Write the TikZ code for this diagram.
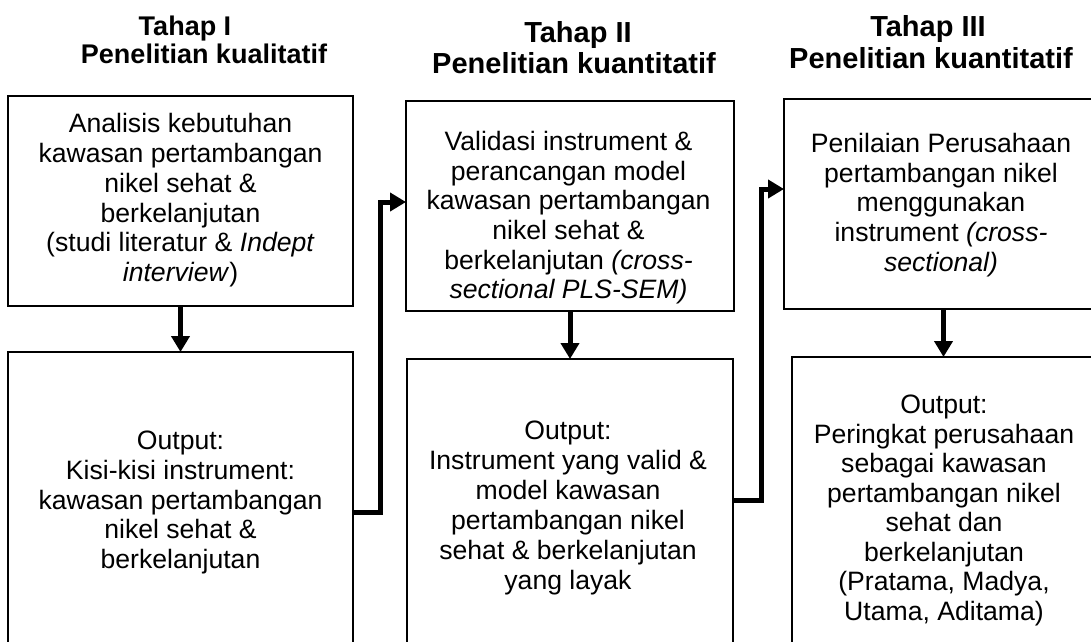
\documentclass[tikz,border=0pt]{standalone}
\usepackage{fontspec}
\setmainfont{Liberation Sans}
\usetikzlibrary{arrows.meta}

\tikzset{
  stagebox/.style={draw, line width=1.2pt, inner sep=0pt, outer sep=0pt},
  boxtext/.style={anchor=north, align=center, inner sep=0pt,
    font=\fontsize{26.6}{29.7}\selectfont},
  heading/.style={anchor=base, inner sep=0pt,
    font=\fontsize{29}{31}\selectfont\bfseries},
  flow/.style={line width=5pt, -{Triangle[length=16pt,width=18pt]}},
}

\begin{document}
\begin{tikzpicture}[x=1pt,y=-1pt]
\useasboundingbox (0,0) rectangle (1091,641);

% stage headings
\node[heading, font=\fontsize{27}{30}\selectfont\bfseries] (h1a) at (185,35) {Tahap I};
\node[heading, font=\fontsize{27}{30}\selectfont\bfseries] (h1b) at (204,63) {Penelitian kualitatif};
\node[heading] (h2a) at (578,42) {Tahap II};
\node[heading] (h2b) at (574,73) {Penelitian kuantitatif};
\node[heading] (h3a) at (928,36) {Tahap III};
\node[heading] (h3b) at (931,68) {Penelitian kuantitatif};

% boxes
\node[stagebox, minimum width=345pt, minimum height=210pt] (b1) at (180.5,201) {};
\node[stagebox, minimum width=345pt, minimum height=298pt] (b2) at (180.5,501) {};
\node[stagebox, minimum width=328pt, minimum height=210pt] (b3) at (570,206) {};
\node[stagebox, minimum width=326pt, minimum height=291pt] (b4) at (570,504.5) {};
\node[stagebox, minimum width=311pt, minimum height=210pt] (b5) at (939.5,204) {};
\node[stagebox, minimum width=303pt, minimum height=293pt] (b6) at (943.5,503.5) {};

% box texts
\node[boxtext] (t1) at (180.5,113.5) {Analisis kebutuhan\\kawasan pertambangan\\nikel sehat \&\\berkelanjutan\\(studi literatur \& \textit{Indept}\\\textit{interview})};
\node[boxtext] (t2) at (180.5,431) {Output:\\Kisi-kisi instrument:\\kawasan pertambangan\\nikel sehat \&\\berkelanjutan};
\node[boxtext] (t3) at (568.5,131) {Validasi instrument \&\\perancangan model\\kawasan pertambangan\\nikel sehat \&\\berkelanjutan \textit{(cross-}\\\textit{sectional PLS-SEM)}};
\node[boxtext, font=\fontsize{26.6}{30}\selectfont] (t4) at (568,421) {Output:\\Instrument yang valid \&\\model kawasan\\pertambangan nikel\\sehat \& berkelanjutan\\yang layak};
\node[boxtext] (t5) at (941,133) {Penilaian Perusahaan\\pertambangan nikel\\menggunakan\\instrument \textit{(cross-}\\\textit{sectional)}};
\node[boxtext, font=\fontsize{26.6}{29.5}\selectfont] (t6) at (944,395) {Output:\\Peringkat perusahaan\\sebagai kawasan\\pertambangan nikel\\sehat dan\\berkelanjutan\\(Pratama, Madya,\\Utama, Aditama)};

% connectors
\draw[flow] (b1.south) -- (b2.north);
\draw[flow] (b3.south) -- (b4.north);
\draw[flow] (b5.south -| b6.north) -- (b6.north);

\coordinate (k1) at (380,512);
\coordinate (k2) at (380,202);
\draw[flow] (b2.east |- k1) -- (k1) -- (k2) -- (b3.west |- k2);

\coordinate (k3) at (761,500);
\coordinate (k4) at (761,189);
\draw[flow] (b4.east |- k3) -- (k3) -- (k4) -- (b5.west |- k4);
\end{tikzpicture}
\end{document}
